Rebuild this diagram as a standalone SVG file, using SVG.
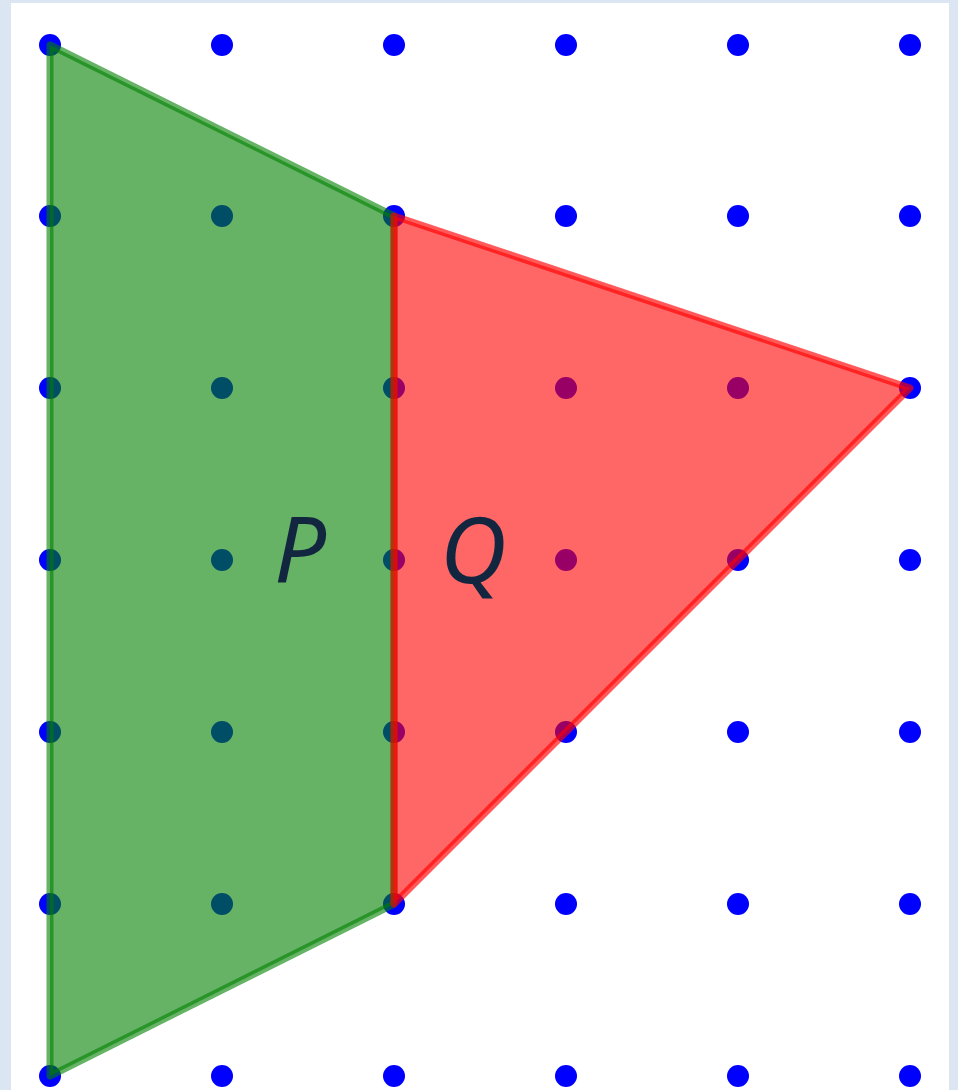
<svg xmlns="http://www.w3.org/2000/svg" width="958" height="1090" viewBox="0 0 958 1090">
<style>
.dot{fill:#0000ff}
.lbl{font-family:"Noto Sans","Open Sans",sans-serif;font-style:italic;font-size:92px;fill:#12263f}
</style>
<rect x="0" y="0" width="958" height="1090" fill="#dce6f2"/>
<rect x="11" y="3" width="938" height="1087" fill="#ffffff"/>
<g id="grid">
<g id="row0"><circle class="dot" cx="50" cy="45" r="11"/><circle class="dot" cx="222" cy="45" r="11"/><circle class="dot" cx="394" cy="45" r="11"/><circle class="dot" cx="566" cy="45" r="11"/><circle class="dot" cx="738" cy="45" r="11"/><circle class="dot" cx="910" cy="45" r="11"/></g>
<g id="row1"><circle class="dot" cx="50" cy="216" r="11"/><circle class="dot" cx="222" cy="216" r="11"/><circle class="dot" cx="394" cy="216" r="11"/><circle class="dot" cx="566" cy="216" r="11"/><circle class="dot" cx="738" cy="216" r="11"/><circle class="dot" cx="910" cy="216" r="11"/></g>
<g id="row2"><circle class="dot" cx="50" cy="388" r="11"/><circle class="dot" cx="222" cy="388" r="11"/><circle class="dot" cx="394" cy="388" r="11"/><circle class="dot" cx="566" cy="388" r="11"/><circle class="dot" cx="738" cy="388" r="11"/><circle class="dot" cx="910" cy="388" r="11"/></g>
<g id="row3"><circle class="dot" cx="50" cy="560" r="11"/><circle class="dot" cx="222" cy="560" r="11"/><circle class="dot" cx="394" cy="560" r="11"/><circle class="dot" cx="566" cy="560" r="11"/><circle class="dot" cx="738" cy="560" r="11"/><circle class="dot" cx="910" cy="560" r="11"/></g>
<g id="row4"><circle class="dot" cx="50" cy="732" r="11"/><circle class="dot" cx="222" cy="732" r="11"/><circle class="dot" cx="394" cy="732" r="11"/><circle class="dot" cx="566" cy="732" r="11"/><circle class="dot" cx="738" cy="732" r="11"/><circle class="dot" cx="910" cy="732" r="11"/></g>
<g id="row5"><circle class="dot" cx="50" cy="904" r="11"/><circle class="dot" cx="222" cy="904" r="11"/><circle class="dot" cx="394" cy="904" r="11"/><circle class="dot" cx="566" cy="904" r="11"/><circle class="dot" cx="738" cy="904" r="11"/><circle class="dot" cx="910" cy="904" r="11"/></g>
<g id="row6"><circle class="dot" cx="50" cy="1076" r="11"/><circle class="dot" cx="222" cy="1076" r="11"/><circle class="dot" cx="394" cy="1076" r="11"/><circle class="dot" cx="566" cy="1076" r="11"/><circle class="dot" cx="738" cy="1076" r="11"/><circle class="dot" cx="910" cy="1076" r="11"/></g>
</g>
<g id="P">
<polygon points="50,45 394,216 394,904 50,1076" fill="#008000" fill-opacity="0.6" stroke="#008000" stroke-opacity="0.6" stroke-width="7" stroke-linejoin="round"/>
</g>
<g id="Q">
<polygon points="394,216 910,388 394,904" fill="#ff0000" fill-opacity="0.6" stroke="#ff0000" stroke-opacity="0.65" stroke-width="7" stroke-linejoin="round"/>
</g>
<g id="labels">
<text class="lbl" x="274" y="583">P</text>
<text class="lbl" x="440" y="583">Q</text>
</g>
</svg>
